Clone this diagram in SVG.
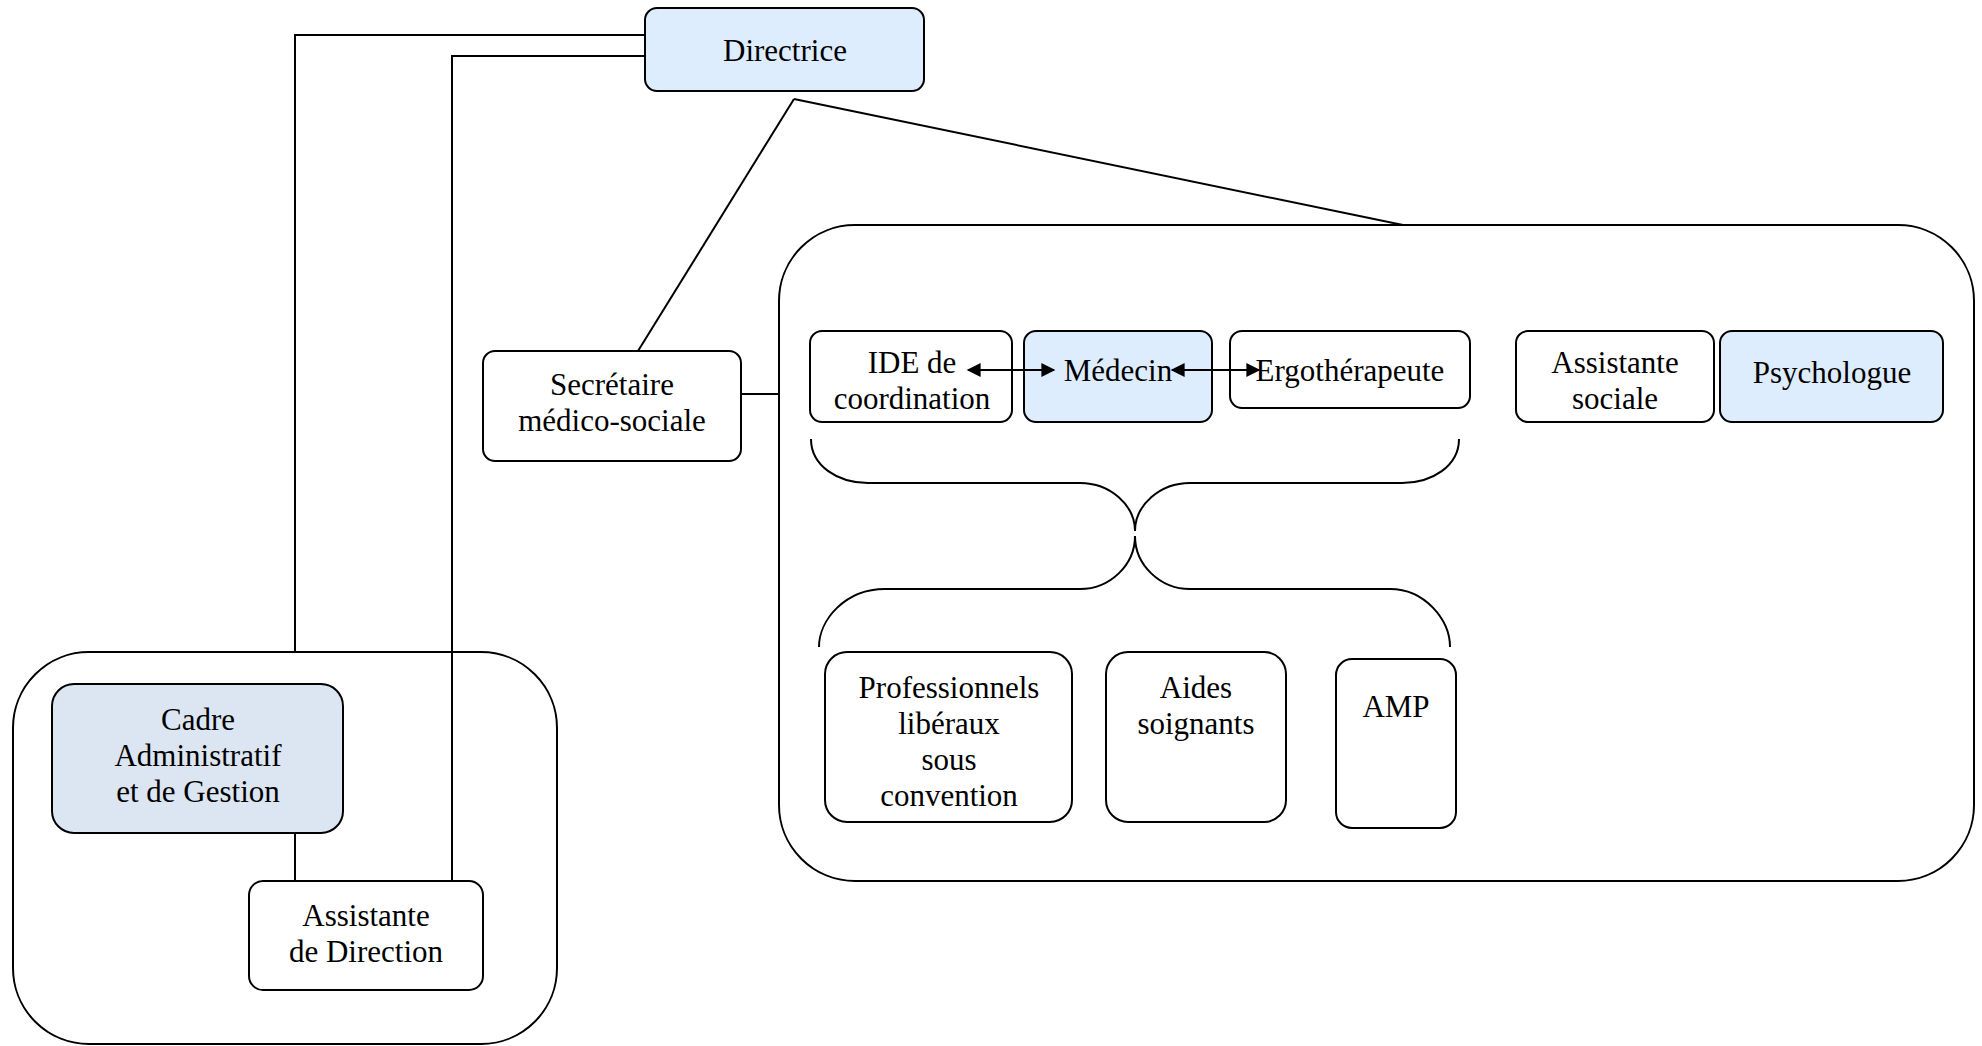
<svg xmlns="http://www.w3.org/2000/svg" width="1982" height="1046" viewBox="0 0 1982 1046">
<defs>
<style>
.box{fill:#fff;stroke:#000;stroke-width:2}
.blue{fill:#DDEDFD;stroke:#000;stroke-width:2}
.grey{fill:#DCE6F2;stroke:#000;stroke-width:2}
.cont{fill:none;stroke:#000;stroke-width:2}
.ln{fill:none;stroke:#000;stroke-width:2}
.t{font-family:'Liberation Serif','Times New Roman',serif;font-size:31px;fill:#000;text-anchor:middle}
</style>
<marker id="ah" viewBox="0 0 10 10" refX="9" refY="5" markerWidth="15" markerHeight="14" markerUnits="userSpaceOnUse" orient="auto-start-reverse">
<path d="M0,0 L10,5 L0,10 z" fill="#000"/>
</marker>
</defs>
<rect width="1982" height="1046" fill="#fff"/>

<g id="container-admin"><rect class="cont" x="13" y="652" width="544" height="392" rx="76"/></g>
<g id="container-soins"><rect class="cont" x="779" y="225" width="1195" height="656" rx="76"/></g>

<g class="t" font-family="Liberation Serif, serif">
<g id="directrice"><rect class="blue" x="645" y="8" width="279" height="83" rx="12"/><text x="785" y="61">Directrice</text></g>
<g id="secretaire"><rect class="box" x="483" y="351" width="258" height="110" rx="12"/><text x="612" y="395">Secrétaire</text><text x="612" y="431">médico-sociale</text></g>
<g id="ide"><rect class="box" x="810" y="331" width="202" height="91" rx="12"/><text x="912" y="373">IDE de</text><text x="912" y="409">coordination</text></g>
<g id="medecin"><rect class="blue" x="1024" y="331" width="188" height="91" rx="12"/><text x="1118" y="381">Médecin</text></g>
<g id="ergo"><rect class="box" x="1230" y="331" width="240" height="77" rx="12"/><text x="1350" y="381">Ergothérapeute</text></g>
<g id="assistante-sociale"><rect class="box" x="1516" y="331" width="198" height="91" rx="12"/><text x="1615" y="373">Assistante</text><text x="1615" y="409">sociale</text></g>
<g id="psychologue"><rect class="blue" x="1720" y="331" width="223" height="91" rx="12"/><text x="1832" y="383">Psychologue</text></g>
<g id="professionnels"><rect class="box" x="825" y="652" width="247" height="170" rx="22"/><text x="949" y="698">Professionnels</text><text x="949" y="734">libéraux</text><text x="949" y="770">sous</text><text x="949" y="806">convention</text></g>
<g id="aides"><rect class="box" x="1106" y="652" width="180" height="170" rx="22"/><text x="1196" y="698">Aides</text><text x="1196" y="734">soignants</text></g>
<g id="amp"><rect class="box" x="1336" y="659" width="120" height="169" rx="16"/><text x="1396" y="717">AMP</text></g>
<g id="cadre"><rect class="grey" x="52" y="684" width="291" height="149" rx="22"/><text x="198" y="730">Cadre</text><text x="198" y="766">Administratif</text><text x="198" y="802">et de Gestion</text></g>
<g id="assistante-direction"><rect class="box" x="249" y="881" width="234" height="109" rx="14"/><text x="366" y="926">Assistante</text><text x="366" y="962">de Direction</text></g>
</g>

<g id="connectors">
<polyline class="ln" points="645,35 295,35 295,652"/>
<polyline class="ln" points="645,56 452,56 452,881"/>
<line class="ln" x1="794" y1="99" x2="638" y2="351"/>
<line class="ln" x1="794" y1="99" x2="1403" y2="225"/>
<line class="ln" x1="741" y1="394" x2="779" y2="394"/>
<line class="ln" x1="295" y1="833" x2="295" y2="881"/>
<line class="ln" x1="968" y1="370" x2="1054" y2="370" marker-start="url(#ah)" marker-end="url(#ah)"/>
<line class="ln" x1="1172" y1="370" x2="1259" y2="370" marker-start="url(#ah)" marker-end="url(#ah)"/>
<path class="ln" d="M811,439 C811,466 838,483 868,483 L1080,483 C1110,483 1135,505 1135,531 C1135,505 1160,483 1190,483 L1402,483 C1432,483 1459,466 1459,439"/>
<path class="ln" d="M1135,536 C1135,565 1110,589 1080,589 L885,589 C845,589 819,620 819,647"/>
<path class="ln" d="M1135,536 C1135,565 1160,589 1190,589 L1390,589 C1425,589 1450,620 1450,647"/>
</g>
</svg>
